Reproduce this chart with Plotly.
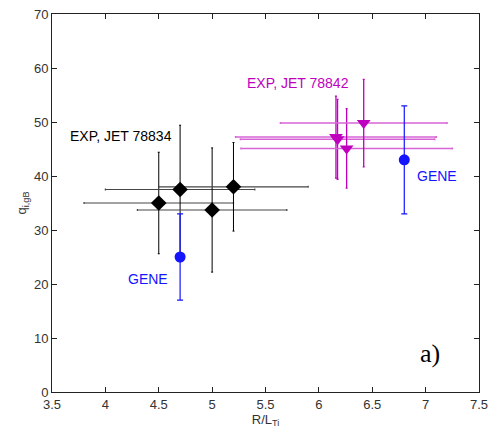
import plotly.graph_objects as go

# EXP, JET 78834 (black diamonds)
exp1_x = [4.5, 4.7, 5.0, 5.2]
exp1_y = [35.0, 37.5, 33.7, 38.0]
exp1_yerr = [9.4, 11.9, 11.5, 8.2]
exp1_xerr = [0.7, 0.7, 0.7, 0.7]

# EXP, JET 78842 (magenta triangles)
exp2_x = [6.16, 6.175, 6.26, 6.42]
exp2_y = [47.2, 46.8, 45.1, 49.8]
exp2_yerr = [7.6, 7.4, 7.35, 8.1]
exp2_xerr = [0.94, 0.91, 0.99, 0.78]

# GENE (blue circles)
gene_x = [4.7, 6.8]
gene_y = [25.0, 43.0]
gene_yerr = [8.0, 10.0]

FONT = "Liberation Sans, Arial, sans-serif"
MAG = "rgb(190,0,190)"
MAG_L = "rgb(214,100,214)"
BLUE = "rgb(20,20,255)"

fig = go.Figure()
fig.add_trace(go.Scatter(
    x=exp1_x, y=exp1_y, mode="markers",
    marker=dict(symbol="diamond", size=12, color="black"),
    error_y=dict(type="data", array=exp1_yerr, color="black", thickness=1, width=1),
    error_x=dict(type="data", array=exp1_xerr, color="rgb(70,70,70)", thickness=1.2, width=1),
))
fig.add_trace(go.Scatter(
    x=exp2_x, y=exp2_y, mode="markers",
    marker=dict(symbol="triangle-down", size=12, color=MAG),
    error_y=dict(type="data", array=exp2_yerr, color=MAG, thickness=1.3, width=1),
    error_x=dict(type="data", array=exp2_xerr, color=MAG_L, thickness=1.5, width=1),
))
fig.add_trace(go.Scatter(
    x=gene_x, y=gene_y, mode="markers",
    marker=dict(symbol="circle", size=11, color=BLUE),
    error_y=dict(type="data", array=gene_yerr, color=BLUE, thickness=1.2, width=3),
))

annots = [
    dict(x=3.65, y=47.4, text="EXP, JET 78834", color="black"),
    dict(x=5.31, y=57.3, text="EXP, JET 78842", color=MAG),
    dict(x=6.90, y=40.0, text="GENE", color=BLUE),
    dict(x=4.19, y=20.9, text="GENE", color=BLUE),
]
for a in annots:
    fig.add_annotation(x=a["x"], y=a["y"], text=a["text"], showarrow=False,
                       xanchor="left", yanchor="middle",
                       font=dict(family=FONT, size=14, color=a["color"]))
fig.add_annotation(x=7.04, y=7.1, text="a)", showarrow=False, xanchor="center", yanchor="middle",
                   font=dict(family="Liberation Serif, Times New Roman, serif", size=26, color="black"))

axis_common = dict(
    showgrid=False, zeroline=False, showline=True, linecolor="#222", linewidth=1,
    mirror="ticks", ticks="inside", ticklen=5, tickcolor="#222", automargin=False,
    tickfont=dict(family=FONT, size=13, color="#333"),
)
fig.update_xaxes(range=[3.5, 7.5], dtick=0.5, tick0=3.5,
                 title=dict(text="R/L<sub>Ti</sub>", font=dict(family=FONT, size=13, color="#333"), standoff=0),
                 **axis_common)
fig.update_yaxes(range=[0, 70], dtick=10,
                 title=dict(text="q<sub>i,gB</sub>", font=dict(family=FONT, size=13, color="#333"), standoff=4),
                 **axis_common)
fig.update_layout(
    template="none",
    width=489, height=430, margin=dict(l=52, r=10, t=14, b=38),
    paper_bgcolor="white", plot_bgcolor="white", showlegend=False,
)
fig.write_html("out.html")
